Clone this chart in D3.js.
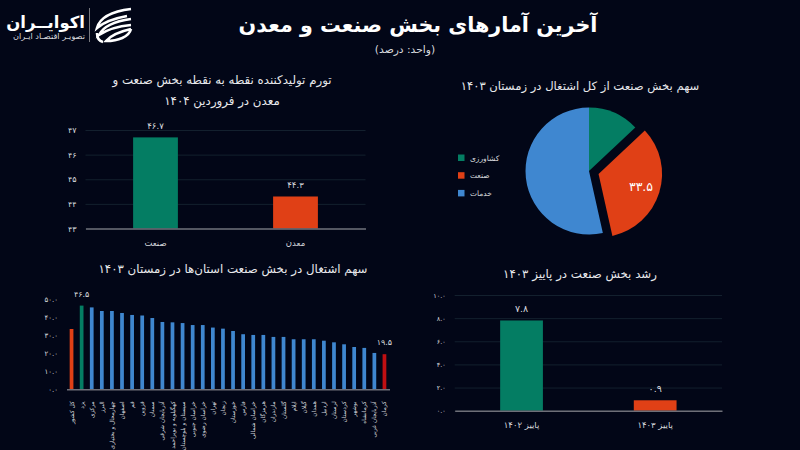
<!DOCTYPE html>
<html>
<head>
<meta charset="UTF-8">
<title>آخرین آمارهای بخش صنعت و معدن</title>
<style>
body { margin:0; background:#020617; }
svg { display:block; font-family:"DejaVu Sans", sans-serif; }
text { fill:#d8dade; }
.title { font-size:11.8px; text-anchor:middle; fill:#e8e9ec; }
.grid line { stroke:#13202e; stroke-width:1; }
.grid path { display:none; }
.yaxis path, .yaxis line, .xaxis line { display:none; }
.xaxis path { stroke:#6e6f78; stroke-width:1.5; }
</style>
</head>
<body>
<svg width="800" height="450"></svg>
<script src="https://cdn.jsdelivr.net/npm/d3@7/dist/d3.min.js"></script>
<script>
const GREEN = '#047d63', ORANGE = '#e04016', BLUE = '#3f87d0', RED = '#c00f12';

const inflationCats = ['صنعت', 'معدن'];
const inflationVals = [46.7, 44.3];
const inflationTicks = [43, 44, 45, 46, 47];

const growthCats = ['پاییز ۱۴۰۲', 'پاییز ۱۴۰۳'];
const growthVals = [7.8, 0.9];
const growthTicks = [0, 2, 4, 6, 8, 10];

const pieCats = ['کشاورزی', 'صنعت', 'خدمات'];
const pieVals = [13, 33.5, 53.5];
const pieColors = [GREEN, ORANGE, BLUE];

const provinces = ['کل کشور', 'یزد', 'مرکزی', 'البرز', 'چهارمحال و بختیاری', 'اصفهان', 'قم', 'قزوین', 'سمنان',
  'آذربایجان شرقی', 'کهگیلویه و بویراحمد', 'سیستان و بلوچستان', 'خراسان جنوبی', 'خراسان رضوی', 'تهران', 'زنجان',
  'خوزستان', 'فارس', 'خراسان شمالی', 'هرمزگان', 'مازندران', 'گلستان', 'ایلام', 'گیلان', 'همدان', 'اردبیل',
  'لرستان', 'کردستان', 'بوشهر', 'کرمانشاه', 'آذربایجان غربی', 'کرمان'];
const provinceVals = [33.5, 46.5, 45.5, 43.5, 43.5, 42.4, 41.3, 41, 39.6, 37.4, 37.2, 36.8, 35.7, 35.7, 34.3, 33.7,
  32.4, 30.6, 30.2, 30.2, 29.1, 29.1, 27.8, 27.8, 27.8, 27, 26.1, 25, 23.5, 23, 20.2, 19.5];
const provinceTicks = [0, 10, 20, 30, 40, 50];

const fa = s => String(s).replace(/\d/g, d => '۰۱۲۳۴۵۶۷۸۹'[d]);
const svg = d3.select('svg');

svg.append('text').attr('x', 418).attr('y', 32).attr('text-anchor', 'middle')
  .attr('font-size', 20.7).attr('font-weight', 'bold').style('fill', '#fff').text('آخرین آمارهای بخش صنعت و معدن');
svg.append('text').attr('x', 405).attr('y', 53).attr('text-anchor', 'middle')
  .attr('font-size', 10.7).text('(واحد: درصد)');

function title(lines, x, y, size) {
  lines.forEach((t, i) => svg.append('text').attr('class', 'title').attr('x', x).attr('y', y + i * 21)
    .style('font-size', size + 'px').text(t));
}
title(['تورم تولیدکننده نقطه به نقطه بخش صنعت و', 'معدن در فروردین ۱۴۰۴'], 222, 84, 11.8);
title(['سهم بخش صنعت از کل اشتغال در زمستان ۱۴۰۳'], 580, 90, 11.6);
title(['سهم اشتغال در بخش صنعت استان‌ها در زمستان ۱۴۰۳'], 233, 273, 11.8);
title(['رشد بخش صنعت در پاییز ۱۴۰۳'], 580, 278, 11.8);

function axes(g, x, y, ticks, left, right, fmt, size) {
  g.append('g').attr('class', 'grid').attr('transform', `translate(${left},0)`)
    .call(d3.axisLeft(y).tickValues(ticks).tickSize(-(right - left)).tickFormat(''));
  g.append('g').attr('class', 'yaxis').attr('transform', `translate(${left},0)`)
    .call(d3.axisLeft(y).tickValues(ticks).tickSize(0).tickPadding(9).tickFormat(fmt))
    .call(a => a.select('.domain').remove())
    .selectAll('text').attr('font-family', 'DejaVu Sans').attr('font-size', size);
  return g.append('g').attr('class', 'xaxis').attr('transform', `translate(0,${y.range()[0]})`)
    .call(d3.axisBottom(x).tickSize(0).tickSizeOuter(0));
}

function twoBars(cats, vals, ticks, dom, xr, yr, fmt, size, valSize) {
  const g = svg.append('g');
  const x = d3.scaleBand().domain(cats).range(xr).paddingInner(0.68).paddingOuter(0.34);
  const y = d3.scaleLinear().domain(dom).range(yr);
  const xa = axes(g, x, y, ticks, xr[0], xr[1], fmt, size);
  xa.selectAll('text').attr('font-family', 'DejaVu Sans').attr('font-size', 8.5).attr('dy', 14);
  g.selectAll('rect').data(cats).enter().append('rect')
    .attr('x', d => x(d)).attr('width', x.bandwidth())
    .attr('y', (d, i) => y(vals[i])).attr('height', (d, i) => y(dom[0]) - y(vals[i]))
    .attr('fill', (d, i) => i ? ORANGE : GREEN);
  g.selectAll('.val').data(cats).enter().append('text').attr('class', 'val')
    .attr('x', d => x(d) + x.bandwidth() / 2).attr('y', (d, i) => y(vals[i]) - 8)
    .attr('text-anchor', 'middle').attr('font-size', valSize).text((d, i) => fa(vals[i].toFixed(1)));
  g.select('.xaxis').raise();
}
twoBars(inflationCats, inflationVals, inflationTicks, [43, 47], [85.5, 365.5], [228.5, 130], d => fa(d), 8, 8.5);
twoBars(growthCats, growthVals, growthTicks, [0, 10], [454.7, 722], [410.7, 295], d => fa(d.toFixed(1)), 6.5, 9.5);

// pie
const pieG = svg.append('g').attr('transform', 'translate(589,171)');
const arc = d3.arc().innerRadius(0).outerRadius(63.5);
const arcs = d3.pie().sort(null)(pieVals);
pieG.selectAll('path').data(arcs).enter().append('path')
  .attr('d', arc).attr('fill', (d, i) => pieColors[i])
  .attr('transform', (d, i) => {
    if (i !== 1) return null;
    const a = (d.startAngle + d.endAngle) / 2;
    return `translate(${Math.sin(a) * 10},${-Math.cos(a) * 10})`;
  });
pieG.append('text').attr('x', 52).attr('y', 20).attr('text-anchor', 'middle')
  .attr('font-size', 12.5).style('fill', '#fff').text(fa(pieVals[1].toFixed(1)));
const legend = svg.append('g').selectAll('g').data(pieCats).enter().append('g')
  .attr('transform', (d, i) => `translate(458,${154.5 + i * 17.7})`);
legend.append('rect').attr('width', 6.5).attr('height', 6.5).attr('fill', (d, i) => pieColors[i]);
legend.append('text').attr('x', 12).attr('y', 6).attr('font-size', 7.5).text(d => d);

// provinces
const pg = svg.append('g');
const px = d3.scaleBand().domain(provinces).range([66.5, 389.5]).paddingInner(0.63).paddingOuter(0.315);
const py = d3.scaleLinear().domain([0, 50]).range([389.3, 299.3]);
pg.append('g').attr('class', 'yaxis').attr('transform', 'translate(66,0)')
  .call(d3.axisLeft(py).tickValues(provinceTicks).tickSize(0).tickPadding(8).tickFormat(d => fa(d.toFixed(1))))
  .call(a => a.select('.domain').remove())
  .selectAll('text').attr('font-family', 'DejaVu Sans').attr('font-size', 7);
pg.selectAll('rect').data(provinces).enter().append('rect')
  .attr('x', d => px(d)).attr('width', px.bandwidth())
  .attr('y', (d, i) => py(provinceVals[i])).attr('height', (d, i) => py(0) - py(provinceVals[i]))
  .attr('fill', (d, i) => i === 0 ? ORANGE : i === 1 ? GREEN : i === provinces.length - 1 ? RED : BLUE);
const pxa = pg.append('g').attr('class', 'xaxis').attr('transform', 'translate(0,389.3)')
  .call(d3.axisBottom(px).tickSize(0).tickSizeOuter(0));
pxa.selectAll('text').attr('font-family', 'DejaVu Sans').attr('font-size', 5.8)
  .attr('text-anchor', 'end').attr('transform', 'rotate(-90)').attr('x', -12).attr('y', 0).attr('dy', '0.35em');
[1, provinces.length - 1].forEach(i => {
  pg.append('text').attr('x', px(provinces[i]) + px.bandwidth() / 2).attr('y', py(provinceVals[i]) - 9)
    .attr('text-anchor', 'middle').attr('font-size', 8).text(fa(provinceVals[i].toFixed(1)));
});

// logo
const logo = svg.append('g');
logo.append('text').attr('x', 85).attr('y', 28).attr('text-anchor', 'end').attr('font-size', 16.5)
  .attr('font-weight', 'bold').style('fill', '#fff').text('اکوایــران');
logo.append('text').attr('x', 85).attr('y', 39).attr('text-anchor', 'end').attr('font-size', 8.2).text('تصویـر اقتصـاد ایـران');
logo.append('line').attr('x1', 89.5).attr('x2', 89.5).attr('y1', 8).attr('y2', 42).attr('stroke', '#aaa').attr('stroke-width', 0.7);
['M131 9 C114 11 100 17 97 28 C104 22 116 18 127 16',
 'M131 19 C116 21 104 25 99 35 C108 29 120 26 131 25',
 'M131 29 C122 31 112 34 106 41 C118 41 129 37 131 29',
 'M97 33 C97 38 99 41 103 42'].forEach(d => {
  logo.append('path').attr('d', d).attr('fill', 'none').attr('stroke', '#fff').attr('stroke-width', 2.6);
});
</script>
</body>
</html>
